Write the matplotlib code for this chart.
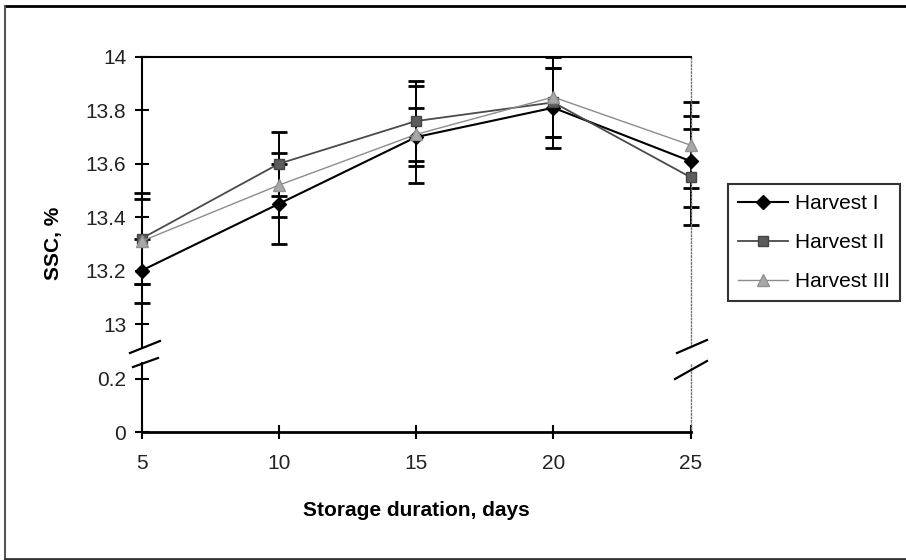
import numpy as np
import matplotlib.pyplot as plt
from matplotlib.lines import Line2D

plt.rcParams['font.family'] = ['Liberation Sans', 'DejaVu Sans']

# storage duration (days)
days = [5, 10, 15, 20, 25]

# SSC (%) means
harvest1 = [13.20, 13.45, 13.70, 13.81, 13.61]
harvest2 = [13.32, 13.60, 13.76, 13.83, 13.55]
harvest3 = [13.31, 13.52, 13.71, 13.85, 13.67]

# error bar half widths
err1 = [0.12, 0.15, 0.11, 0.15, 0.17]
err2 = [0.17, 0.12, 0.15, 0.13, 0.18]
err3 = [0.16, 0.12, 0.18, 0.15, 0.16]

labels = ['Harvest I', 'Harvest II', 'Harvest III']
top_ticks = [13, 13.2, 13.4, 13.6, 13.8, 14]
top_ticklabels = ['13', '13.2', '13.4', '13.6', '13.8', '14']
bot_ticks = [0, 0.2]
bot_ticklabels = ['0', '0.2']

W, H = 906, 560
fig = plt.figure(figsize=(W / 100, H / 100), dpi=100)


def fx(px):
    return px / W


def fy(py):
    return 1 - py / H


x0, x1 = 141.5, 690.5
ax = fig.add_axes([fx(x0), fy(347), fx(x1) - fx(x0), fy(57) - fy(347)])
axb = fig.add_axes([fx(x0), fy(432), fx(x1) - fx(x0), fy(363) - fy(432)])

series = [
    (harvest1, err1, dict(color='black', marker='D', ms=7, mfc='black', mec='black', lw=1.5)),
    (harvest2, err2, dict(color='#4a4a4a', marker='s', ms=7, mfc='#5c5c5c', mec='#444444', lw=1.3)),
    (harvest3, err3, dict(color='#8c8c8c', marker='^', ms=8, mfc='#a8a8a8', mec='#909090', lw=1.0)),
]

handles = []
for (vals, err, st), lab in zip(series, labels):
    eb = ax.errorbar(days, vals, yerr=err, fmt='none', ecolor='black', elinewidth=1.4,
                     capsize=5.5, capthick=2, zorder=2)
    for art in eb.get_children():
        art.set_clip_on(False)
for (vals, err, st), lab in zip(series, labels):
    ln, = ax.plot(days, vals, label=lab, zorder=3, clip_on=False, **st)
    handles.append(ln)

for a in (ax, axb):
    a.set_xlim(5, 25)
    a.spines['right'].set_linestyle((0, (1, 1.5)))
    a.spines['right'].set_color('#777777')
    a.spines['right'].set_linewidth(1.0)
    a.spines['left'].set_linewidth(1.5)
    a.tick_params(axis='y', direction='inout', length=10, width=1.5, labelsize=15, pad=6,
                  colors='black', labelcolor='#222222')

ax.set_ylim(12.914, 14)
ax.set_yticks(top_ticks)
ax.set_yticklabels(top_ticklabels)
ax.spines['bottom'].set_visible(False)
ax.spines['top'].set_linewidth(1.5)
ax.tick_params(axis='x', bottom=False, labelbottom=False)

axb.set_ylim(0, 0.26)
axb.set_yticks(bot_ticks)
axb.set_yticklabels(bot_ticklabels)
axb.spines['top'].set_visible(False)
axb.spines['bottom'].set_linewidth(2)
axb.set_xticks(days)
axb.set_xticklabels([str(d) for d in days])
axb.tick_params(axis='x', direction='inout', length=10, width=1.5, labelsize=15, pad=11,
                labelcolor='#222222')
axb.set_xlabel('Storage duration, days', fontsize=15, fontweight='bold', labelpad=20)

fig.text(fx(53), fy(243), 'SSC, %', rotation=90, fontsize=15, fontweight='bold',
         ha='center', va='center')

# axis break marks
for (xa, ya, xb, yb) in [(130, 353, 160, 341), (133, 367, 158, 358),
                         (677, 353, 707, 340), (675, 379, 707, 361)]:
    fig.add_artist(Line2D([fx(xa), fx(xb)], [fy(ya), fy(yb)], color='black', lw=1.6,
                          transform=fig.transFigure))

# outer frame
fig.add_artist(Line2D([fx(5), 1], [fy(6), fy(6)], color='black', lw=2, transform=fig.transFigure))
fig.add_artist(Line2D([fx(5), fx(5)], [fy(6), fy(559)], color='#555555', lw=1.5, transform=fig.transFigure))
fig.add_artist(Line2D([fx(5), 1], [fy(559), fy(559)], color='#333333', lw=2, transform=fig.transFigure))

leg = fig.legend(handles=handles, loc='upper left', bbox_to_anchor=(fx(728), fy(184)),
                 fontsize=15, frameon=True, fancybox=False, handlelength=2.4,
                 handletextpad=0.3, labelspacing=0.95, borderpad=0.5, borderaxespad=0)
leg.get_frame().set_edgecolor('black')
leg.get_frame().set_linewidth(1.5)

fig.savefig('out.png', dpi=100)
